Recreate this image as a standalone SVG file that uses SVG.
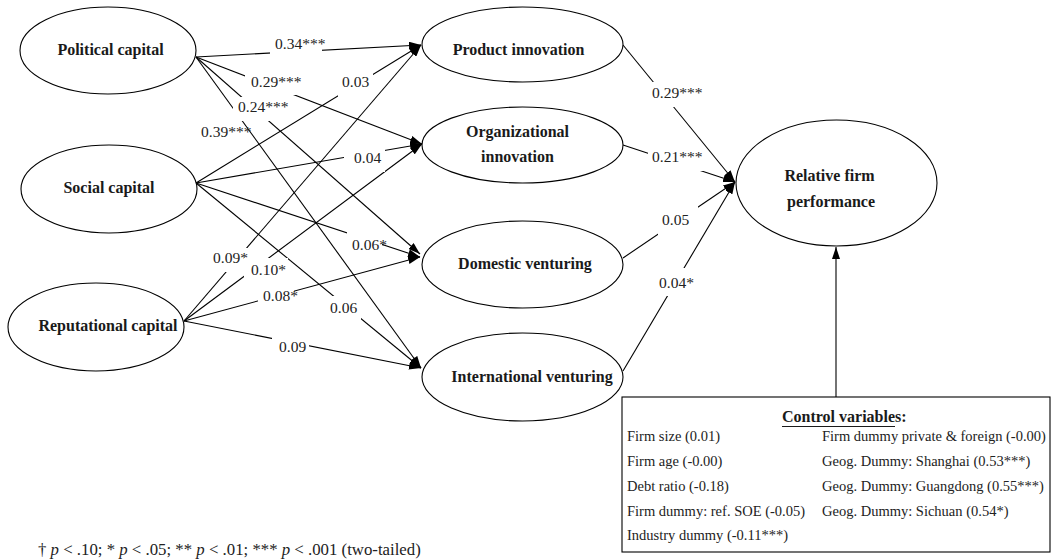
<svg xmlns="http://www.w3.org/2000/svg" width="1057" height="560" viewBox="0 0 1057 560">
<defs>
<marker id="arr" viewBox="0 0 12 8" refX="12" refY="4" markerWidth="12" markerHeight="8" markerUnits="userSpaceOnUse" orient="auto">
<path d="M0,0 L12,4 L0,8 Z" fill="#000"/>
</marker>
<style>
.node ellipse{fill:#fff;stroke:#000;stroke-width:1.1}
.nl{font-family:"Liberation Serif","Times New Roman",serif;font-weight:bold;font-size:16px;fill:#1a1a1a}
.conn line{stroke:#000;stroke-width:1.1;fill:none}
.el{font-family:"Liberation Serif","Times New Roman",serif;font-size:15.5px;fill:#222}
.mask{fill:#fff}
.ct{font-family:"Liberation Serif","Times New Roman",serif;font-size:14.5px;fill:#222}
.fn{font-family:"Liberation Serif","Times New Roman",serif;font-size:16.8px;fill:#222}
</style>
</defs>
<rect width="1057" height="560" fill="#fff"/>

<g id="connectors" class="conn">
<line x1="196" y1="57" x2="421" y2="45" marker-end="url(#arr)"/>
<line x1="196" y1="57" x2="422" y2="144" marker-end="url(#arr)"/>
<line x1="196" y1="57" x2="420" y2="254" marker-end="url(#arr)"/>
<line x1="196" y1="57" x2="421" y2="368" marker-end="url(#arr)"/>
<line x1="196" y1="183" x2="421" y2="45" marker-end="url(#arr)"/>
<line x1="196" y1="183" x2="422" y2="144" marker-end="url(#arr)"/>
<line x1="196" y1="183" x2="420" y2="257" marker-end="url(#arr)"/>
<line x1="196" y1="183" x2="421" y2="368" marker-end="url(#arr)"/>
<line x1="184" y1="321" x2="421" y2="45" marker-end="url(#arr)"/>
<line x1="184" y1="321" x2="422" y2="144" marker-end="url(#arr)"/>
<line x1="184" y1="321" x2="420" y2="257" marker-end="url(#arr)"/>
<line x1="184" y1="321" x2="421" y2="368" marker-end="url(#arr)"/>
<line x1="623" y1="45" x2="735" y2="182" marker-end="url(#arr)"/>
<line x1="623" y1="145" x2="735" y2="182" marker-end="url(#arr)"/>
<line x1="623" y1="258" x2="735" y2="182" marker-end="url(#arr)"/>
<line x1="623" y1="371" x2="735" y2="182" marker-end="url(#arr)"/>
<line x1="836" y1="397" x2="836" y2="247" marker-end="url(#arr)"/>

<g id="edge-labels">
<rect class="mask" x="270" y="35" width="52" height="22"/><text class="el" x="275" y="49">0.34***</text>
<rect class="mask" x="245" y="74" width="60" height="21"/><text class="el" x="251" y="87">0.29***</text>
<rect class="mask" x="338" y="73" width="35" height="24"/><text class="el" x="342" y="87">0.03</text>
<rect class="mask" x="233" y="97" width="61" height="24"/><text class="el" x="238" y="112">0.24***</text>
<text class="el" x="201" y="137">0.39***</text>
<rect class="mask" x="344" y="149" width="41" height="23"/><text class="el" x="354" y="163">0.04</text>
<rect class="mask" x="347" y="232" width="35" height="27"/><text class="el" x="352" y="250">0.06*</text>
<rect class="mask" x="208" y="248" width="42" height="24"/><text class="el" x="213" y="263">0.09*</text>
<rect class="mask" x="244" y="258" width="44" height="26"/><text class="el" x="251" y="275">0.10*</text>
<rect class="mask" x="258" y="287" width="36" height="23"/><text class="el" x="263" y="301">0.08*</text>
<rect class="mask" x="328" y="296" width="33" height="24"/><text class="el" x="330" y="313">0.06</text>
<rect class="mask" x="272" y="337" width="37" height="23"/><text class="el" x="279" y="352">0.09</text>
<rect class="mask" x="650" y="82" width="56" height="25"/><text class="el" x="652" y="98">0.29***</text>
<rect class="mask" x="648" y="150" width="56" height="21"/><text class="el" x="652" y="162">0.21***</text>
<rect class="mask" x="658" y="206" width="40" height="29"/><text class="el" x="662" y="225">0.05</text>
<rect class="mask" x="655" y="268" width="39" height="28"/><text class="el" x="659" y="288">0.04*</text>
</g>
</g>

<g id="political" class="node">
<ellipse cx="108" cy="50.5" rx="88" ry="43.5"/>
<text class="nl" x="110.5" y="55" text-anchor="middle">Political capital</text>
</g>
<g id="social" class="node">
<ellipse cx="109" cy="189" rx="88" ry="44"/>
<text class="nl" x="109" y="193" text-anchor="middle">Social capital</text>
</g>
<g id="reputational" class="node">
<ellipse cx="96" cy="327" rx="88" ry="44"/>
<text class="nl" x="108" y="331" text-anchor="middle">Reputational capital</text>
</g>
<g id="product" class="node">
<ellipse cx="522.5" cy="44.5" rx="100.5" ry="37.5"/>
<text class="nl" x="518.5" y="55" text-anchor="middle">Product innovation</text>
</g>
<g id="organizational" class="node">
<ellipse cx="522.5" cy="145" rx="100.5" ry="38"/>
<text class="nl" x="517.5" y="137" text-anchor="middle">Organizational</text>
<text class="nl" x="517.5" y="162" text-anchor="middle">innovation</text>
</g>
<g id="domestic" class="node">
<ellipse cx="522.5" cy="264.5" rx="100.5" ry="43.5"/>
<text class="nl" x="525" y="269" text-anchor="middle">Domestic venturing</text>
</g>
<g id="international" class="node">
<ellipse cx="522.5" cy="377" rx="100.5" ry="44"/>
<text class="nl" x="532" y="382" text-anchor="middle">International venturing</text>
</g>
<g id="performance" class="node">
<ellipse cx="836.5" cy="183" rx="100.5" ry="63"/>
<text class="nl" x="829.5" y="181" text-anchor="middle">Relative firm</text>
<text class="nl" x="831" y="207" text-anchor="middle">performance</text>
</g>

<g id="controls">
<rect x="622" y="397" width="428" height="155" fill="#fff" stroke="#000" stroke-width="1.1"/>
<text class="nl" x="782" y="422">Control variables:</text>
<line x1="782" y1="426.5" x2="895" y2="426.5" stroke="#1a1a1a" stroke-width="1.1"/>
<text class="ct" x="627" y="441">Firm size (0.01)</text>
<text class="ct" x="627" y="466">Firm age (-0.00)</text>
<text class="ct" x="627" y="491">Debt ratio (-0.18)</text>
<text class="ct" x="627" y="515.5">Firm dummy: ref. SOE (-0.05)</text>
<text class="ct" x="627" y="540">Industry dummy (-0.11***)</text>
<text class="ct" x="822" y="441">Firm dummy private &amp; foreign (-0.00)</text>
<text class="ct" x="822" y="466">Geog. Dummy: Shanghai (0.53***)</text>
<text class="ct" x="822" y="491">Geog. Dummy: Guangdong (0.55***)</text>
<text class="ct" x="822" y="515.5">Geog. Dummy: Sichuan (0.54*)</text>
</g>

<text id="footnote" class="fn" x="38" y="555">† <tspan font-style="italic">p</tspan> &lt; .10; * <tspan font-style="italic">p</tspan> &lt; .05; ** <tspan font-style="italic">p</tspan> &lt; .01; *** <tspan font-style="italic">p</tspan> &lt; .001 (two-tailed)</text>
</svg>
